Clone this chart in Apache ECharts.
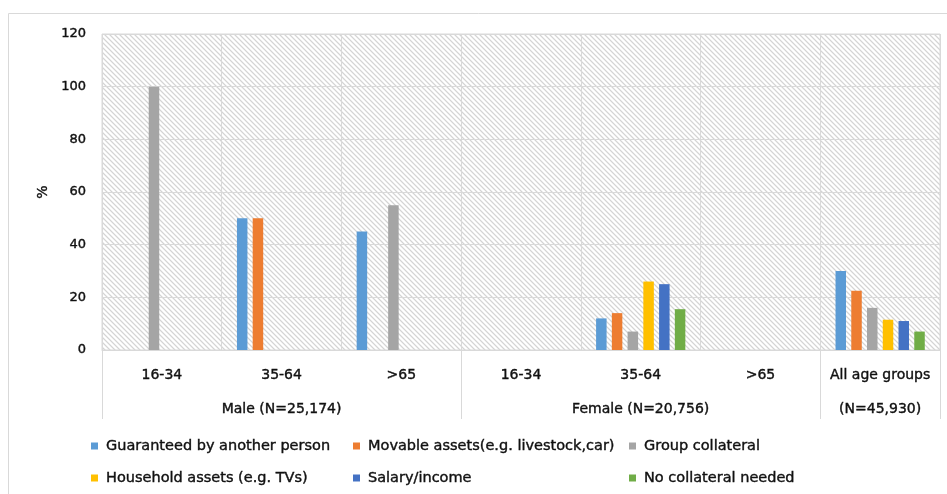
<!DOCTYPE html>
<html>
<head>
<meta charset="utf-8">
<script src="https://cdn.jsdelivr.net/npm/echarts@6/dist/echarts.min.js"></script>
<style>
  html, body { margin: 0; padding: 0; background: #ffffff; }
  #chart { width: 947px; height: 494px; }
</style>
</head>
<body>
<div id="chart"></div>
<script>
// Age-group categories (first axis level) and the respondent groups (second level)
const ageLabels = ['16-34', '35-64', '>65', '16-34', '35-64', '>65', 'All age groups'];
const groupLabels = ['Male (N=25,174)', 'Female (N=20,756)', '(N=45,930)'];
const groupSpans = [3, 3, 1];

// Share of borrowers (%) by type of collateral
const seriesNames = [
  'Guaranteed by another person',
  'Movable assets(e.g. livestock,car)',
  'Group collateral',
  'Household assets (e.g. TVs)',
  'Salary/income',
  'No collateral needed'
];
const guaranteed = [0, 50, 45, 0, 12, 0, 30];
const movable    = [0, 50, 0, 0, 14, 0, 22.5];
const groupColl  = [100, 0, 55, 0, 7, 0, 16];
const household  = [0, 0, 0, 0, 26, 0, 11.5];
const salary     = [0, 0, 0, 0, 25, 0, 11];
const noColl     = [0, 0, 0, 0, 15.5, 0, 7];

const yTicks = [0, 20, 40, 60, 80, 100, 120];

const seriesData = [guaranteed, movable, groupColl, household, salary, noColl];
const colors = ['#5B9BD5', '#ED7D31', '#A5A5A5', '#FFC000', '#4472C4', '#70AD47'];

// Boundaries and centres of the second-level groups on a 0..N scale
const groupEdges = [0];
groupSpans.forEach(s => groupEdges.push(groupEdges[groupEdges.length - 1] + s));
const groupCenters = groupSpans.map((s, i) => groupEdges[i] + s / 2);

// Diagonal hatch tile for the plot background
const P = 5;
const tile = document.createElement('canvas');
tile.width = P; tile.height = P;
const tctx = tile.getContext('2d');
const img = tctx.createImageData(P, P);
for (let y = 0; y < P; y++) {
  for (let x = 0; x < P; x++) {
    const d = ((x - y) % P + P) % P;
    const v = d === 0 ? 212 : (d === 1 || d === P - 1 ? 238 : 255);
    const i = (y * P + x) * 4;
    img.data[i] = v; img.data[i + 1] = v; img.data[i + 2] = v; img.data[i + 3] = 255;
  }
}
tctx.putImageData(img, 0, 0);

const FONT = 'DejaVu Sans';
const TEXT = '#111111';
const LINE = '#d9d9d9';
const heavy = { textBorderColor: '#111111', textBorderWidth: 0.4 };

const chart = echarts.init(document.getElementById('chart'), null, { renderer: 'canvas' });

// Legend laid out as a 3-column, 2-row table
const legendCols = [91, 353, 629];
const legendRows = [438, 470];

chart.setOption({
  animation: false,
  graphic: [{
    type: 'rect',
    shape: { x: 8.5, y: 13.5, width: 960, height: 520 },
    style: { fill: 'none', stroke: LINE, lineWidth: 1 },
    silent: true,
    z: -10
  }],
  grid: {
    left: 102, right: 7, top: 34, bottom: 144,
    show: true,
    backgroundColor: { image: tile, repeat: 'repeat' },
    borderColor: LINE,
    borderWidth: 1
  },
  legend: seriesNames.map((name, i) => ({
    orient: 'horizontal',
    left: legendCols[i % 3],
    top: legendRows[Math.floor(i / 3)],
    itemWidth: 7,
    itemHeight: 7,
    itemGap: 0,
    icon: 'rect',
    padding: 0,
    data: [name],
    textStyle: Object.assign({ fontFamily: FONT, fontSize: 14.5, color: TEXT, lineHeight: 16, padding: [0, 0, 0, 3] }, heavy)
  })),
  xAxis: [{
    type: 'category',
    data: ageLabels,
    axisLine: { show: true, lineStyle: { color: LINE } },
    axisTick: { show: false },
    splitLine: { show: true, lineStyle: { color: LINE, width: 1 } },
    axisLabel: Object.assign({ fontFamily: FONT, fontSize: 14, color: TEXT, margin: 18, interval: 0 }, heavy)
  }, {
    type: 'value',
    min: groupEdges[0],
    max: groupEdges[groupEdges.length - 1],
    position: 'bottom',
    axisLine: { show: false },
    splitLine: { show: false },
    axisTick: {
      show: true,
      customValues: groupEdges,
      length: 69,
      lineStyle: { color: LINE, width: 1 }
    },
    axisLabel: Object.assign({
      customValues: groupCenters,
      formatter: v => {
        const i = groupCenters.indexOf(v);
        return i >= 0 ? groupLabels[i] : '';
      },
      fontFamily: FONT, fontSize: 14, color: TEXT, margin: 52
    }, heavy)
  }],
  yAxis: {
    type: 'value',
    min: yTicks[0],
    max: yTicks[yTicks.length - 1],
    interval: yTicks[1] - yTicks[0],
    name: '%',
    nameLocation: 'middle',
    nameGap: 52,
    nameRotate: 90,
    nameTextStyle: Object.assign({ fontFamily: FONT, fontSize: 14, color: TEXT }, heavy),
    axisLine: { show: false },
    axisTick: { show: false },
    splitLine: { lineStyle: { color: LINE, width: 1 } },
    axisLabel: Object.assign({ fontFamily: FONT, fontSize: 13, color: TEXT, margin: 16 }, heavy)
  },
  series: seriesData.map((d, i) => ({
    name: seriesNames[i],
    type: 'bar',
    data: d,
    barWidth: 10.5,
    barGap: '50%',
    itemStyle: { color: colors[i] },
    xAxisIndex: 0
  }))
});
</script>
</body>
</html>
